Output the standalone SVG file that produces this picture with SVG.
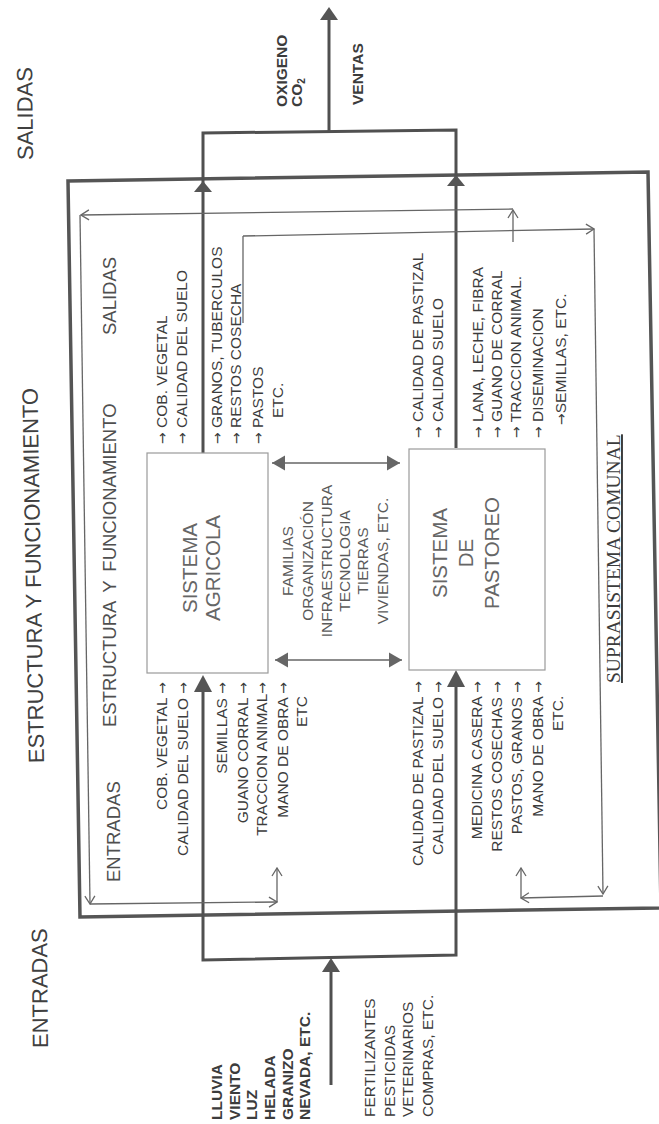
<svg xmlns="http://www.w3.org/2000/svg" width="659" height="1124" viewBox="0 0 659 1124">
<style>
text{font-family:"Liberation Sans",Arial,sans-serif;fill:#3c3c3c}
.big{font-size:22px;fill:#404040}
.sub{font-size:18.5px;fill:#4f4f4f}
.lbl{font-size:15.5px}
.end{text-anchor:end}
.ar{font-family:"DejaVu Sans",sans-serif;font-size:14px}
.ctr{font-size:15.5px;fill:#5a5a5a;text-anchor:middle}
.boxt{font-size:20.5px;fill:#666;text-anchor:middle}
.bold{font-weight:bold}
.serif{font-family:"Liberation Serif","Times New Roman",serif;font-size:19.5px;text-decoration:underline;fill:#3c3c3c}
.box{fill:#fff;stroke:#9a9a9a;stroke-width:1.2}
.frame{fill:none;stroke:#555;stroke-width:3.5;stroke-linejoin:miter}
.thick{fill:none;stroke:#505050;stroke-width:3}
.thin{fill:none;stroke:#666;stroke-width:1.3}
.dbl{fill:none;stroke:#666;stroke-width:1.6}
.head{fill:#555}
</style>
<defs>
<marker id="open" markerUnits="userSpaceOnUse" viewBox="-10 -6 11 12" refX="0" refY="0" markerWidth="11" markerHeight="12" orient="auto"><path d="M-8,-5 L0,0 L-8,5" fill="none" stroke="#666" stroke-width="1.3"/></marker>
<marker id="tri" markerUnits="userSpaceOnUse" viewBox="-14 -8 15 16" refX="0" refY="0" markerWidth="15" markerHeight="16" orient="auto-start-reverse"><path d="M-13,-7.5 L0,0 L-13,7.5 Z" fill="#666"/></marker>
</defs>
<rect width="659" height="1124" fill="#fff"/>

<g id="titles">
<text class="big" transform="translate(33,160) rotate(-90.5)">SALIDAS</text>
<text class="big" transform="translate(44,763) rotate(-91)">ESTRUCTURA Y FUNCIONAMIENTO</text>
<text class="big" transform="translate(48,1048) rotate(-90.5)">ENTRADAS</text>
<text class="sub" transform="translate(116,335) rotate(-90)">SALIDAS</text>
<text class="sub" word-spacing="4" transform="translate(116,727) rotate(-90)">ESTRUCTURA Y FUNCIONAMIENTO</text>
<text class="sub" transform="translate(120,882) rotate(-90)">ENTRADAS</text>
</g>

<g id="suprasistema">
<path class="frame" d="M68,181 L648,172 L661,908 L80,917 Z"/>
<text class="serif" transform="translate(620,683) rotate(-90)">SUPRASISTEMA COMUNAL</text>
</g>

<g id="connectors">
<path class="thick" d="M203,453 V133 L456,130 V448"/>
<path class="thick" d="M329,132 V16"/>
<polygon class="head" points="329,7 320,20 338,20"/>
<polygon class="head" points="203,181 194,192 212,192"/>
<polygon class="head" points="456,175 447,186 465,186"/>
<path class="thick" d="M203,692 V960 L456,955 V686"/>
<path class="thick" d="M331,1085 V970"/>
<polygon class="head" points="331,958 322,972 340,972"/>
<polygon class="head" points="203,675 194,692 212,692"/>
<polygon class="head" points="456,670 447,687 465,687"/>
<line class="dbl" x1="272" y1="463" x2="400" y2="463" marker-start="url(#tri)" marker-end="url(#tri)"/>
<line class="dbl" x1="275" y1="660" x2="402" y2="660" marker-start="url(#tri)" marker-end="url(#tri)"/>
<line class="thin" x1="513" y1="242" x2="513" y2="210" marker-end="url(#open)"/>
<line class="thin" x1="513" y1="209" x2="81" y2="215" marker-end="url(#open)"/>
<line class="thin" x1="80" y1="215" x2="90" y2="904" marker-end="url(#open)"/>
<line class="thin" x1="90" y1="904" x2="277" y2="902" marker-end="url(#open)"/>
<line class="thin" x1="277" y1="902" x2="277" y2="868" marker-end="url(#open)"/>
<line class="thin" x1="243" y1="323" x2="243" y2="236"/>
<line class="thin" x1="243" y1="236" x2="594" y2="229" marker-end="url(#open)"/>
<line class="thin" x1="594" y1="229" x2="603" y2="894" marker-end="url(#open)"/>
<line class="thin" x1="603" y1="896" x2="521" y2="898" marker-end="url(#open)"/>
<line class="thin" x1="521" y1="898" x2="521" y2="868" marker-end="url(#open)"/>
</g>

<g id="salidas-externas">
<text class="lbl bold" font-size="15" transform="translate(287,107) rotate(-90)">OXIGENO</text>
<text class="lbl bold" font-size="15" transform="translate(302,107) rotate(-90)">CO<tspan font-size="10" dy="3">2</tspan></text>
<text class="lbl bold" font-size="15" transform="translate(363,105) rotate(-90)">VENTAS</text>
</g>

<g id="entradas-naturales">
<text class="lbl bold" font-size="15" transform="translate(222,1120) rotate(-90)">LLUVIA</text>
<text class="lbl bold" font-size="15" transform="translate(240,1120) rotate(-90)">VIENTO</text>
<text class="lbl bold" font-size="15" transform="translate(257,1120) rotate(-90)">LUZ</text>
<text class="lbl bold" font-size="15" transform="translate(275,1120) rotate(-90)">HELADA</text>
<text class="lbl bold" font-size="15" transform="translate(293,1120) rotate(-90)">GRANIZO</text>
<text class="lbl bold" font-size="15" transform="translate(310,1120) rotate(-90)">NEVADA, ETC.</text>
</g>

<g id="entradas-compradas">
<text class="lbl" transform="translate(375,1117) rotate(-90)">FERTILIZANTES</text>
<text class="lbl" transform="translate(395,1117) rotate(-90)">PESTICIDAS</text>
<text class="lbl" transform="translate(413,1117) rotate(-90)">VETERINARIOS</text>
<text class="lbl" transform="translate(433,1117) rotate(-90)">COMPRAS, ETC.</text>
</g>

<g id="sistema-agricola">
<rect class="box" x="147" y="453" width="121" height="220"/>
<text class="boxt" transform="translate(197,568) rotate(-90)">SISTEMA</text>
<text class="boxt" transform="translate(220,568) rotate(-90)">AGRICOLA</text>
</g>

<g id="sistema-pastoreo">
<rect class="box" x="409" y="449" width="136" height="221"/>
<text class="boxt" transform="translate(447,553) rotate(-90)">SISTEMA</text>
<text class="boxt" transform="translate(473,553) rotate(-90)">DE</text>
<text class="boxt" transform="translate(499,553) rotate(-90)">PASTOREO</text>
</g>

<g id="recursos-comunes">
<text class="ctr" transform="translate(293,561) rotate(-90)">FAMILIAS</text>
<text class="ctr" transform="translate(313,561) rotate(-90)">ORGANIZACIÓN</text>
<text class="ctr" transform="translate(332,561) rotate(-90)">INFRAESTRUCTURA</text>
<text class="ctr" transform="translate(350,561) rotate(-90)">TECNOLOGIA</text>
<text class="ctr" transform="translate(368,561) rotate(-90)">TIERRAS</text>
<text class="ctr" transform="translate(388,561) rotate(-90)">VIVIENDAS, ETC.</text>
</g>

<g id="salidas-agricola">
<text class="lbl" transform="translate(167,444) rotate(-90)"><tspan class="ar">→</tspan> COB. VEGETAL</text>
<text class="lbl" transform="translate(187,444) rotate(-90)"><tspan class="ar">→</tspan> CALIDAD DEL SUELO</text>
<text class="lbl" transform="translate(222,444) rotate(-90)"><tspan class="ar">→</tspan> GRANOS, TUBERCULOS</text>
<text class="lbl" transform="translate(241,444) rotate(-90)"><tspan class="ar">→</tspan> RESTOS COSECHA</text>
<text class="lbl" transform="translate(263,444) rotate(-90)"><tspan class="ar">→</tspan> PASTOS</text>
<text class="lbl" transform="translate(283,418) rotate(-90)">ETC.</text>
</g>

<g id="entradas-agricola">
<text class="lbl end" transform="translate(167,682) rotate(-90)">COB. VEGETAL <tspan class="ar">→</tspan></text>
<text class="lbl end" transform="translate(188,682) rotate(-90)">CALIDAD DEL SUELO <tspan class="ar">→</tspan></text>
<text class="lbl end" transform="translate(227,682) rotate(-90)">SEMILLAS <tspan class="ar">→</tspan></text>
<text class="lbl end" transform="translate(248,682) rotate(-90)">GUANO CORRAL <tspan class="ar">→</tspan></text>
<text class="lbl end" transform="translate(267,682) rotate(-90)">TRACCION ANIMAL<tspan class="ar">→</tspan></text>
<text class="lbl end" transform="translate(288,682) rotate(-90)">MANO DE OBRA <tspan class="ar">→</tspan></text>
<text class="lbl" transform="translate(307,727) rotate(-90)">ETC</text>
</g>

<g id="salidas-pastoreo">
<text class="lbl" transform="translate(423,438) rotate(-90)"><tspan class="ar">→</tspan> CALIDAD DE PASTIZAL</text>
<text class="lbl" transform="translate(443,438) rotate(-90)"><tspan class="ar">→</tspan> CALIDAD SUELO</text>
<text class="lbl" transform="translate(483,438) rotate(-90)"><tspan class="ar">→</tspan> LANA, LECHE, FIBRA</text>
<text class="lbl" transform="translate(502,438) rotate(-90)"><tspan class="ar">→</tspan> GUANO DE CORRAL</text>
<text class="lbl" transform="translate(521,438) rotate(-90)"><tspan class="ar">→</tspan> TRACCION ANIMAL.</text>
<text class="lbl" transform="translate(543,438) rotate(-90)"><tspan class="ar">→</tspan> DISEMINACION</text>
<text class="lbl" transform="translate(566,425) rotate(-90)"><tspan class="ar">→</tspan>SEMILLAS, ETC.</text>
</g>

<g id="entradas-pastoreo">
<text class="lbl end" transform="translate(423,681) rotate(-90)">CALIDAD DE PASTIZAL <tspan class="ar">→</tspan></text>
<text class="lbl end" transform="translate(443,681) rotate(-90)">CALIDAD DEL SUELO <tspan class="ar">→</tspan></text>
<text class="lbl end" transform="translate(482,681) rotate(-90)">MEDICINA CASERA <tspan class="ar">→</tspan></text>
<text class="lbl end" transform="translate(502,681) rotate(-90)">RESTOS COSECHAS <tspan class="ar">→</tspan></text>
<text class="lbl end" transform="translate(522,681) rotate(-90)">PASTOS, GRANOS <tspan class="ar">→</tspan></text>
<text class="lbl end" transform="translate(543,681) rotate(-90)">MANO DE OBRA <tspan class="ar">→</tspan></text>
<text class="lbl" transform="translate(563,731) rotate(-90)">ETC.</text>
</g>
</svg>
